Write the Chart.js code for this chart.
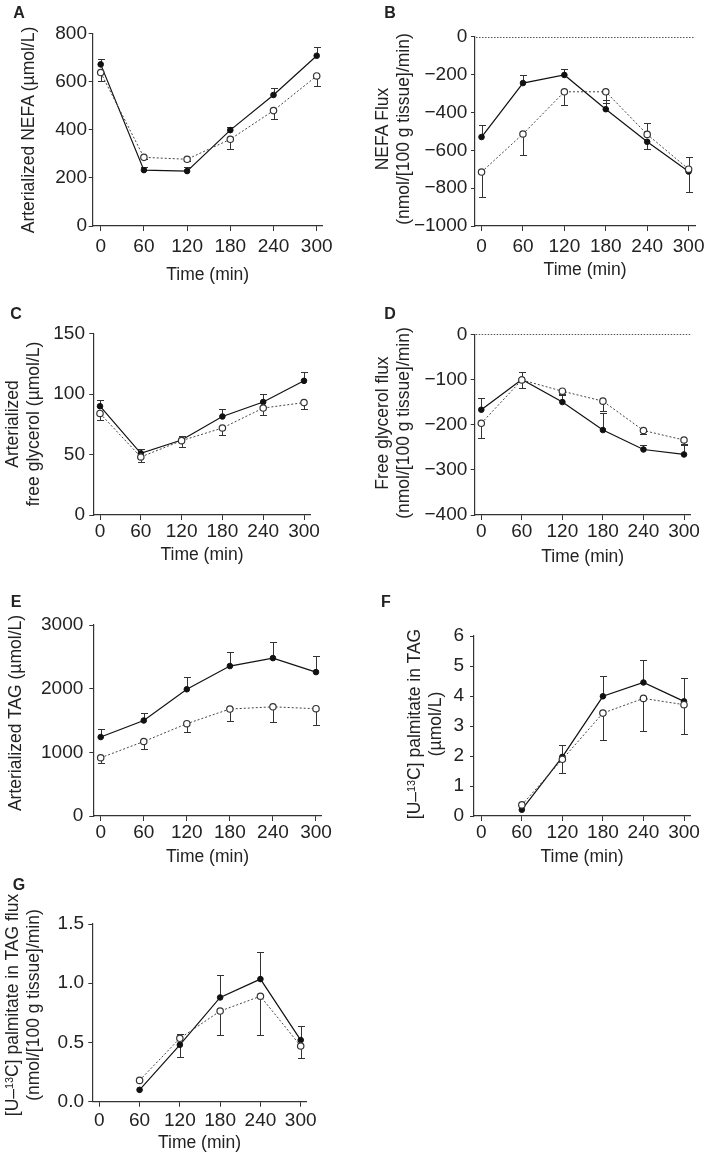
<!DOCTYPE html>
<html>
<head>
<meta charset="utf-8">
<script src="https://cdn.jsdelivr.net/npm/chart.js@4"></script>
<style>
  body { margin: 0; background: #fff; width: 709px; height: 1156px; position: relative; overflow: hidden;
         font-family: "Liberation Sans", Arial, Helvetica, sans-serif; color: #222; }
  canvas { position: absolute; }
  .letter { position: absolute; font-weight: bold; font-size: 16px; transform: translate(-50%, -50%); }
  .ytitle { position: absolute; font-size: 17.5px; line-height: 21px; white-space: nowrap; text-align: center;
            transform: translate(-50%, -50%) rotate(-90deg); }
  .ytitle sup { font-size: 0.62em; line-height: 0; vertical-align: 0.5em; }
</style>
</head>
<body>
<script>
// ---- data (solid line = filled circles, dotted line = open circles)
// error values: sign gives the direction the bar is drawn in
const xTicks = [0, 60, 120, 180, 240, 300];
const timesAll = [0, 60, 120, 180, 240, 300];
const timesLate = [60, 120, 180, 240, 300];

// A - arterialized NEFA
const nefaTicks = [0, 200, 400, 600, 800];
const nefaSolid = [671, 232, 228, 398, 544, 707];
const nefaSolidErr = [22, 14, 18, 12, 30, 37];
const nefaDotted = [637, 285, 277, 360, 479, 623];
const nefaDottedErr = [-34, -8, -6, -40, -36, -40];

// B - NEFA flux
const nefaFluxTicks = [-1000, -800, -600, -400, -200, 0];
const nefaFluxSolid = [-530, -245, -202, -383, -555, -712];
const nefaFluxSolidErr = [62, 43, 31, 48, -38, -107];
const nefaFluxDotted = [-715, -514, -291, -291, -516, -700];
const nefaFluxDottedErr = [-133, -110, -70, -60, 62, 66];

// C - arterialized free glycerol
const glyTicks = [0, 50, 100, 150];
const glySolid = [90, 51, 62, 81.5, 93.5, 111];
const glySolidErr = [5.5, 4, 3, 6.5, 7, 7];
const glyDotted = [84, 48, 61.5, 72, 88.5, 93];
const glyDottedErr = [-5, -4, -5, -6, -6, -5];

// D - free glycerol flux
const glyFluxTicks = [-400, -300, -200, -100, 0];
const glyFluxSolid = [-167, -100, -150, -212, -255, -266];
const glyFluxSolidErr = [25, 17, 17, 37, 10, 20];
const glyFluxDotted = [-197, -101, -126, -148, -213, -234];
const glyFluxDottedErr = [-33, -17, -8, -22, -8, -8];

// E - arterialized TAG
const tagTicks = [0, 1000, 2000, 3000];
const tagSolid = [1240, 1500, 1990, 2355, 2480, 2260];
const tagSolidErr = [120, 125, 190, 215, 250, 250];
const tagDotted = [915, 1170, 1450, 1680, 1715, 1685];
const tagDottedErr = [-90, -120, -130, -190, -245, -260];

// F - [U-13C] palmitate in TAG
const palTicks = [0, 1, 2, 3, 4, 5, 6];
const palSolid = [0.21, 1.97, 3.99, 4.45, 3.82];
const palSolidErr = [0, 0.4, 0.67, 0.76, 0.77];
const palDotted = [0.37, 1.89, 3.43, 3.92, 3.71];
const palDottedErr = [0, -0.44, -0.91, -1.07, -0.97];

// G - [U-13C] palmitate in TAG flux
const palFluxTicks = [0, 0.5, 1.0, 1.5];
const palFluxSolid = [0.10, 0.48, 0.88, 1.035, 0.52];
const palFluxSolidErr = [0, -0.10, 0.19, 0.225, 0.12];
const palFluxDotted = [0.18, 0.535, 0.765, 0.89, 0.47];
const palFluxDottedErr = [0, 0.04, -0.2, -0.33, -0.1];

const panels = [
  { key: 'A', t: timesAll, s: nefaSolid, se: nefaSolidErr, d: nefaDotted, de: nefaDottedErr, yt: nefaTicks, dec: 0,
    title: 'Arterialized NEFA (µmol/L)' },
  { key: 'B', t: timesAll, s: nefaFluxSolid, se: nefaFluxSolidErr, d: nefaFluxDotted, de: nefaFluxDottedErr, yt: nefaFluxTicks, dec: 0,
    title: 'NEFA Flux<br>(nmol/[100 g tissue]/min)', zero: true },
  { key: 'C', t: timesAll, s: glySolid, se: glySolidErr, d: glyDotted, de: glyDottedErr, yt: glyTicks, dec: 0,
    title: 'Arterialized<br>free glycerol (µmol/L)' },
  { key: 'D', t: timesAll, s: glyFluxSolid, se: glyFluxSolidErr, d: glyFluxDotted, de: glyFluxDottedErr, yt: glyFluxTicks, dec: 0,
    title: 'Free glycerol flux<br>(nmol/[100 g tissue]/min)', zero: true },
  { key: 'E', t: timesAll, s: tagSolid, se: tagSolidErr, d: tagDotted, de: tagDottedErr, yt: tagTicks, dec: 0,
    title: 'Arterialized TAG (µmol/L)' },
  { key: 'F', t: timesLate, s: palSolid, se: palSolidErr, d: palDotted, de: palDottedErr, yt: palTicks, dec: 0,
    title: '[U–<sup>13</sup>C] palmitate in TAG<br>(µmol/L)' },
  { key: 'G', t: timesLate, s: palFluxSolid, se: palFluxSolidErr, d: palFluxDotted, de: palFluxDottedErr, yt: palFluxTicks, dec: 1,
    title: '[U–<sup>13</sup>C] palmitate in TAG flux<br>(nmol/[100 g tissue]/min)' }
];

// ---- page layout (pixels)
const layout = {
  A: { cv: [0, 0, 354, 290],   plot: [92.7, 33.3, 322.7, 226],   x0: 100.7, x300: 316.7, tickCY: 246.7, titleCY: 275,   yGap: 5.7,
       letter: [19, 12.5], ytitle: [28.3, 130] },
  B: { cv: [354, 0, 355, 290], plot: [475, 36.7, 700.7, 226],    x0: 481.7, x300: 694,   tickCY: 246.7, titleCY: 270,   yGap: 7.7,
       letter: [390, 12.5], ytitle: [392.5, 129] },
  C: { cv: [0, 290, 354, 290], plot: [93.3, 333.7, 310.7, 515],  x0: 100,   x300: 304,   tickCY: 531,   titleCY: 555,   yGap: 8.3,
       letter: [16, 314], ytitle: [22.5, 424] },
  D: { cv: [354, 290, 355, 290], plot: [474.7, 334.3, 690.7, 515], x0: 481.3, x300: 684, tickCY: 531,   titleCY: 556.7, yGap: 7.4,
       letter: [390, 314], ytitle: [392.5, 423] },
  E: { cv: [0, 580, 354, 290], plot: [93.3, 625, 321.7, 816],    x0: 100.7, x300: 316,   tickCY: 832,   titleCY: 856.7, yGap: 10,
       letter: [16, 602], ytitle: [15, 713] },
  F: { cv: [354, 580, 355, 290], plot: [474, 636, 690, 816],     x0: 481.3, x300: 684,   tickCY: 833,   titleCY: 856.7, yGap: 10,
       letter: [386, 602], ytitle: [425, 724] },
  G: { cv: [0, 870, 354, 286], plot: [92.3, 924, 306.7, 1101.7], x0: 99.3,  x300: 300.7, tickCY: 1120.7, titleCY: 1143, yGap: 8.3,
       letter: [19, 885], ytitle: [23, 1005] }
};

const FAMILY = "'Liberation Sans', Arial, Helvetica, sans-serif";
const TICK_FS = 19, TITLE_FS = 17.5;
const TICK_LH = TICK_FS * 1.2, TITLE_LH = TITLE_FS * 1.2;
const TICK = 5, YTICK = 4, YW = 66;
const INK = '#222', AXIS = '#333';

const errorBars = {
  id: 'errorBars',
  beforeDatasetsDraw(chart) {
    const { ctx, scales: { x, y } } = chart;
    ctx.save();
    ctx.strokeStyle = AXIS;
    ctx.lineWidth = 1;
    chart.data.datasets.forEach(ds => {
      ds.data.forEach((pt, i) => {
        const e = ds.errors[i];
        if (!e) return;
        const px = Math.round(x.getPixelForValue(pt.x)) + 0.5;
        const y0 = y.getPixelForValue(pt.y);
        const y1 = Math.round(y.getPixelForValue(pt.y + e)) + 0.5;
        ctx.beginPath();
        ctx.moveTo(px, y0);
        ctx.lineTo(px, y1);
        ctx.moveTo(px - 3.5, y1);
        ctx.lineTo(px + 3.5, y1);
        ctx.stroke();
      });
    });
    ctx.restore();
  }
};

const zeroLine = {
  id: 'zeroLine',
  afterDraw(chart, args, opts) {
    if (!opts.show) return;
    const { ctx, chartArea, scales: { y } } = chart;
    const py = Math.round(y.getPixelForValue(0)) + 0.5;
    ctx.save();
    ctx.strokeStyle = '#555';
    ctx.lineWidth = 1;
    ctx.setLineDash([1.5, 1.5]);
    ctx.beginPath();
    ctx.moveTo(chartArea.left + 1, py);
    ctx.lineTo(chartArea.right, py);
    ctx.stroke();
    ctx.restore();
  }
};

function addDiv(cls, html, pos) {
  const el = document.createElement('div');
  el.className = cls;
  el.innerHTML = html;
  el.style.left = pos[0] + 'px';
  el.style.top = pos[1] + 'px';
  document.body.appendChild(el);
}

function fmt(v, dec) {
  const s = Math.abs(v).toFixed(dec);
  return v < 0 ? '\u2212' + s : s;
}

panels.forEach(p => {
  const L = layout[p.key];
  const [cx, cy, cw, ch] = L.cv;
  const [pl, pt, pr, pb] = L.plot;
  const ppm = (L.x300 - L.x0) / 300;
  const xMin = -(L.x0 - pl) / ppm;
  const xMax = (pr - L.x0) / ppm;
  const xH = L.titleCY + TITLE_LH / 2 - pb;

  const cv = document.createElement('canvas');
  cv.width = cw; cv.height = ch;
  cv.style.left = cx + 'px'; cv.style.top = cy + 'px';
  cv.style.width = cw + 'px'; cv.style.height = ch + 'px';
  document.body.appendChild(cv);

  const tickFont = { family: FAMILY, size: TICK_FS, weight: 'normal', lineHeight: 1.2 };
  const titleFont = { family: FAMILY, size: TITLE_FS, weight: 'normal', lineHeight: 1.2 };

  new Chart(cv, {
    type: 'line',
    data: {
      datasets: [
        {
          label: 'open',
          data: p.t.map((t, i) => ({ x: t, y: p.d[i] })),
          errors: p.de,
          borderColor: '#444', borderWidth: 1, borderDash: [2, 2],
          pointRadius: 3.2, pointBorderWidth: 1.2,
          pointBackgroundColor: '#fff', pointBorderColor: '#333',
          tension: 0, clip: false
        },
        {
          label: 'filled',
          data: p.t.map((t, i) => ({ x: t, y: p.s[i] })),
          errors: p.se,
          borderColor: '#111', borderWidth: 1.2,
          pointRadius: 2.8, pointBorderWidth: 1,
          pointBackgroundColor: '#111', pointBorderColor: '#111',
          tension: 0, clip: false
        }
      ]
    },
    options: {
      responsive: false,
      animation: false,
      devicePixelRatio: 1,
      events: [],
      layout: {
        autoPadding: false,
        padding: {
          left: pl - cx - YW,
          right: cx + cw - pr,
          top: pt - cy,
          bottom: cy + ch - (pb + xH)
        }
      },
      plugins: {
        legend: { display: false },
        tooltip: { enabled: false },
        zeroLine: { show: !!p.zero }
      },
      scales: {
        x: {
          type: 'linear',
          min: xMin, max: xMax,
          afterBuildTicks: s => { s.ticks = xTicks.map(v => ({ value: v })); },
          afterFit: s => { s.height = xH; },
          grid: { drawOnChartArea: false, drawTicks: true, tickLength: TICK, color: AXIS, lineWidth: 1 },
          border: { color: AXIS, width: 1.2 },
          ticks: { autoSkip: false, maxRotation: 0, color: INK, font: tickFont,
                   padding: Math.max(0, L.tickCY - pb - TICK - TICK_LH / 2),
                   callback: v => String(v) },
          title: { display: true, text: 'Time (min)', padding: 0, color: INK, font: titleFont }
        },
        y: {
          type: 'linear',
          min: p.yt[0], max: p.yt[p.yt.length - 1],
          afterBuildTicks: s => { s.ticks = p.yt.map(v => ({ value: v })); },
          afterFit: s => { s.width = YW; },
          grid: { drawOnChartArea: false, drawTicks: true, tickLength: YTICK, color: AXIS, lineWidth: 1 },
          border: { color: AXIS, width: 1.2 },
          ticks: { autoSkip: false, color: INK, font: tickFont, padding: Math.max(0, L.yGap - YTICK),
                   callback: v => fmt(v, p.dec) }
        }
      }
    },
    plugins: [errorBars, zeroLine]
  });

  addDiv('letter', p.key, L.letter);
  addDiv('ytitle', p.title, L.ytitle);
});
</script>
</body>
</html>
